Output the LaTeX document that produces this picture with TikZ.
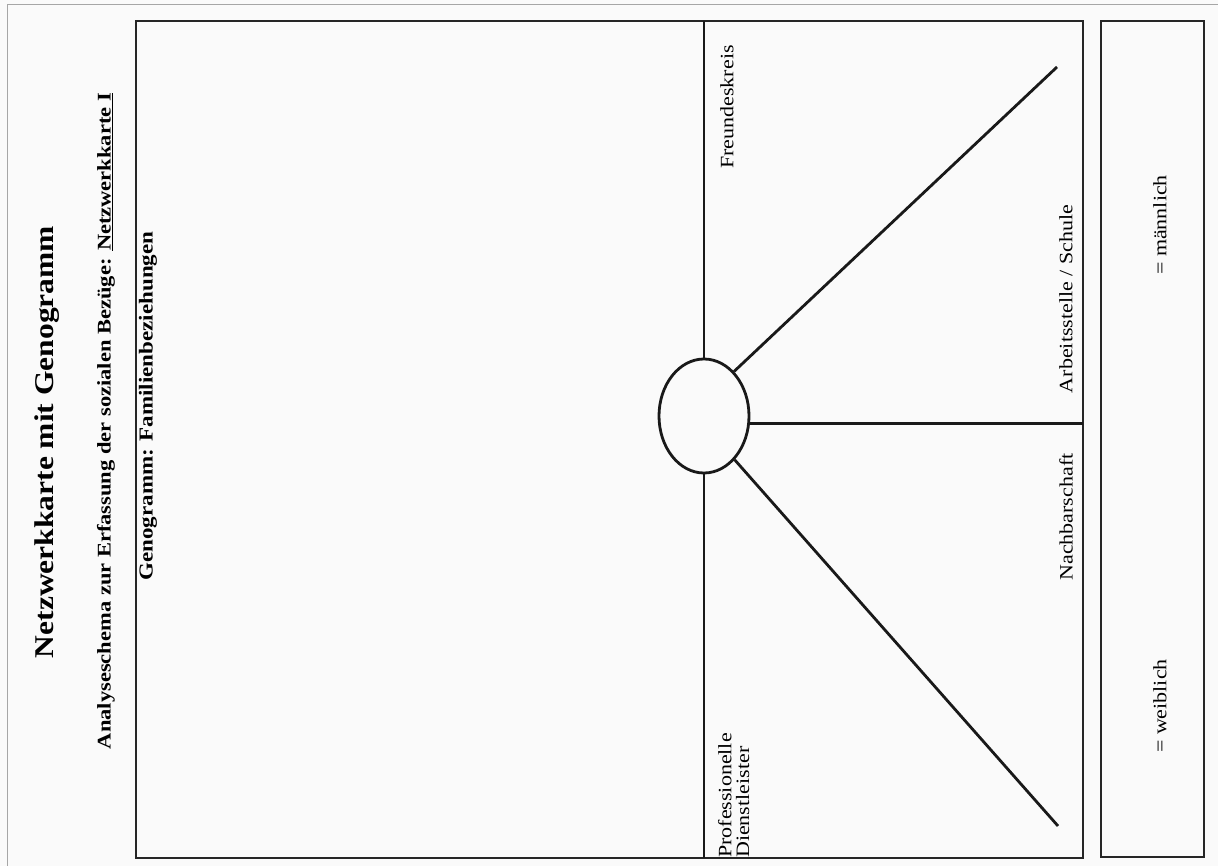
\documentclass[tikz,border=0pt]{standalone}
\usepackage{fontspec}
\setmainfont{Liberation Serif}
\usetikzlibrary{shapes.geometric}
\newcommand{\sq}[1]{\scalebox{1}[0.86]{#1}}
\begin{document}
\begin{tikzpicture}[x=1pt,y=-1pt,
  rot/.style={rotate=90, inner sep=0pt, anchor=center},
  lab/.style={rot, font=\fontsize{22}{18}\selectfont},
  head/.style={rot, font=\bfseries\fontsize{23}{26}\selectfont},
  frame/.style={draw=black!85, line width=1.5pt},
  ray/.style={draw=black!90, line width=2.8pt}]
\fill[gray!4] (0,0) rectangle (1218,866);
\useasboundingbox (0,0) rectangle (1218,866);
% outer scan frame
\draw[gray!70, line width=0.8pt] (7,866) -- (7,4) -- (1218,4);
% boxes
\draw[frame] (136,21) rectangle (1083,858);
\draw[frame, line width=2.6pt] (1101,21) rectangle (1204,857);
% titles
\node[rot, font=\bfseries\fontsize{31.5}{34}\selectfont] (title) at (47,442) {\sq{Netzwerkkarte mit Genogramm}};
\node[rot, font=\bfseries\fontsize{22.5}{26}\selectfont] (sub) at (106,421) {\sq{Analyseschema zur Erfassung der sozialen Bezüge: \underline{Netzwerkkarte I}}};
\node[head] (geno) at (148,406) {\sq{Genogramm: Familienbeziehungen}};
% center
\node[draw=black!90, line width=2.8pt, ellipse, minimum width=90pt, minimum height=114pt, inner sep=0pt] (ego) at (704,416) {};
\coordinate (top) at (704,21);
\coordinate (bot) at (704,858);
\coordinate (rgt) at (1083,423);
\coordinate (ur) at (1057,67);
\coordinate (lr) at (1058,826);
\draw[ray] (ego.north) -- (ego.north |- top);
\draw[ray] (ego.south) -- (ego.south |- bot);
\draw[ray] (ego.-9) -- (ego.-9 -| rgt);
\draw[ray] (ego.56) -- (ur);
\draw[ray] (ego.-55) -- (lr);
% sector labels
\node[lab] (fk) at (727,107) {\sq{Freundeskreis}};
\node[lab] (as) at (1066,299) {\sq{Arbeitsstelle / Schule}};
\node[lab] (nb) at (1066,517) {\sq{Nachbarschaft}};
\node[lab, anchor=west] (pd) at (736,858) {\sq{\begin{tabular}{@{}l@{}}Professionelle\\Dienstleister\end{tabular}}};
% legend
\node[lab] (m) at (1160,225) {\sq{= männlich}};
\node[lab] (w) at (1160,706) {\sq{= weiblich}};
\end{tikzpicture}
\end{document}
